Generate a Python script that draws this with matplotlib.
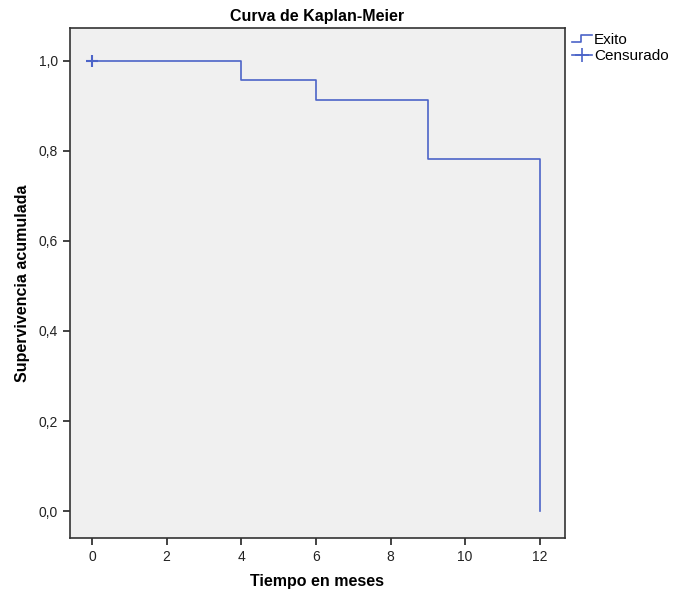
import matplotlib
matplotlib.use('Agg')
import matplotlib.pyplot as plt
from matplotlib.lines import Line2D
from matplotlib.legend_handler import HandlerBase
from matplotlib.ticker import FuncFormatter

plt.rcParams['font.family'] = ['Liberation Sans', 'DejaVu Sans']

# Kaplan-Meier steps (time, cumulative survival)
times = [0, 4, 6, 9, 12]
survival = [1.0, 0.9565, 0.913, 0.7826, 0.0]
censored_t = [0]
censored_s = [1.0]

line_color = '#4c64c8'
bg_color = '#f0f0f0'


class StepHandler(HandlerBase):
    def create_artists(self, legend, orig_handle, xdescent, ydescent,
                       width, height, fontsize, trans):
        w, h = width, height
        xs = [0, 0.45 * w, 0.45 * w, w]
        ys = [0.2 * h, 0.2 * h, 0.85 * h, 0.85 * h]
        ln = Line2D(xs, ys, color=orig_handle.get_color(), lw=1.2, transform=trans)
        return [ln]


fig = plt.figure(figsize=(6.75, 5.9), dpi=100)
ax = fig.add_axes([0.1037, 0.088, 0.733, 0.8645])
ax.set_facecolor(bg_color)

ax.step(times, survival, where='post', color=line_color, lw=1.2)
ax.plot(censored_t, censored_s, '+', color=line_color, ms=8, mew=1.5)

ax.set_xlim(-0.59, 12.67)
ax.set_ylim(-0.06, 1.073)
ax.set_xticks(range(0, 13, 2))
ax.set_yticks([0, 0.2, 0.4, 0.6, 0.8, 1.0])
ax.yaxis.set_major_formatter(FuncFormatter(lambda v, p: f'{v:.1f}'.replace('.', ',')))
ax.tick_params(direction='out', length=5, width=1.2, labelsize=10, colors='#222222')

for s in ax.spines.values():
    s.set_linewidth(1.2)
    s.set_color('#333333')

ax.set_title('Curva de Kaplan-Meier', fontsize=11.5, fontweight='bold', pad=5)
ax.set_xlabel('Tiempo en meses', fontsize=11.5, fontweight='bold', labelpad=7)
ax.set_ylabel('Supervivencia acumulada', fontsize=11.5, fontweight='bold', labelpad=6)

h_step = Line2D([], [], color=line_color)
h_cens = Line2D([], [], color=line_color, marker='+', ms=10, mew=1.2, lw=1.2)
leg = fig.legend([h_step, h_cens], ['Exito', 'Censurado'],
                 handler_map={h_step: StepHandler()},
                 loc='upper left', bbox_to_anchor=(0.838, 0.955),
                 frameon=False, fontsize=11, handlelength=1.3,
                 handletextpad=0.15, labelspacing=0.15, borderaxespad=0)

fig.savefig('out.png', dpi=100)
